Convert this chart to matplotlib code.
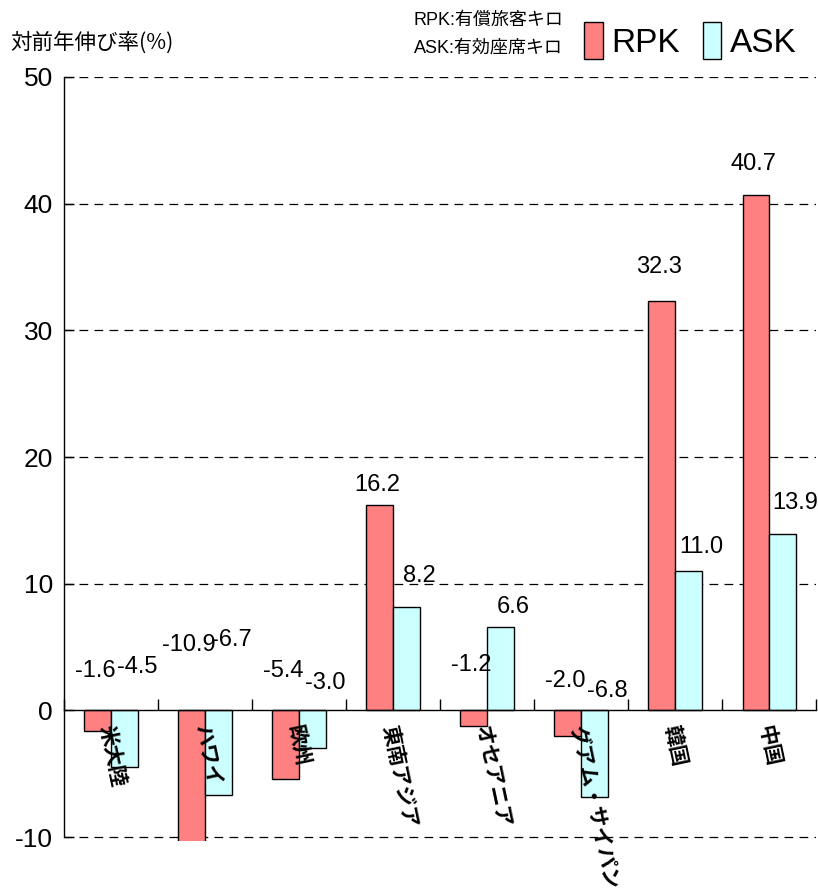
import matplotlib
matplotlib.use("Agg")
import matplotlib.pyplot as plt
from matplotlib import font_manager as fm
import numpy as np

# ---- data ----
categories = ["米大陸", "ハワイ", "欧州", "東南アジア", "オセアニア", "グアム・サイパン", "韓国", "中国"]
rpk = [-1.6, -10.9, -5.4, 16.2, -1.2, -2.0, 32.3, 40.7]
ask = [-4.5, -6.7, -3.0, 8.2, 6.6, -6.8, 11.0, 13.9]
rpk_labels = ["-1.6", "-10.9", "-5.4", "16.2", "-1.2", "-2.0", "32.3", "40.7"]
ask_labels = ["-4.5", "-6.7", "-3.0", "8.2", "6.6", "-6.8", "11.0", "13.9"]
yticks = [-10, 0, 10, 20, 30, 40, 50]

# label placement (y position of value labels, in axis units)
rpk_label_y = [3.1, 5.2, 3.1, 17.8, 3.6, 2.3, 35.0, 43.1]
ask_label_y = [3.4, 5.6, 2.2, 10.6, 8.2, 1.5, 12.9, 16.4]

names = {f.name for f in fm.fontManager.ttflist}
NUM = "Liberation Sans Narrow" if "Liberation Sans Narrow" in names else "Liberation Sans"
JP = "Noto Sans CJK JP"
plt.rcParams["font.family"] = [NUM, JP, "DejaVu Sans"]

RED = "#FF8080"
CYAN = "#CCFFFF"

fig = plt.figure(figsize=(8.18, 8.92), dpi=100)
ax = fig.add_axes([0.0782, 0.0572, 0.9198, 0.9137 - 0.0572])

x = np.arange(len(categories))
w = 0.285
b1 = ax.bar(x - w / 2, rpk, w, color=RED, edgecolor="black", linewidth=1.0, zorder=3, label="RPK")
b2 = ax.bar(x + w / 2, ask, w, color=CYAN, edgecolor="black", linewidth=1.0, zorder=3, label="ASK")

ax.set_xlim(-0.5, len(categories) - 0.5)
ax.set_ylim(-10.3, 50)
ax.set_yticks(yticks)
ax.set_yticklabels([str(v) for v in yticks], fontsize=19, family=[NUM])
ax.tick_params(axis="y", direction="in", length=7, width=1, pad=8)

for v in yticks:
    if v != 0:
        ax.axhline(v, color="black", lw=0.9, ls=(0, (7, 5)), zorder=1)

for s in ["top", "right"]:
    ax.spines[s].set_visible(False)
ax.spines["left"].set_bounds(-10, 50)
ax.spines["left"].set_linewidth(1.0)
ax.spines["bottom"].set_position(("data", 0))
ax.spines["bottom"].set_linewidth(1.0)
ax.spines["bottom"].set_zorder(4)
ax.set_xticks(np.arange(len(categories) + 1) - 0.5)
ax.set_xticklabels([])
ax.tick_params(axis="x", direction="in", length=8, width=1)

# value labels
for i in range(len(categories)):
    ax.text(x[i] - 0.17, rpk_label_y[i], rpk_labels[i], ha="center", va="center",
            fontsize=17, family=[NUM], zorder=5)
    ax.text(x[i] + 0.28, ask_label_y[i], ask_labels[i], ha="center", va="center",
            fontsize=17, family=[NUM], zorder=5)

# category labels
for i, c in enumerate(categories):
    ax.text(x[i] - 0.05, -1.2, c, rotation=-78, rotation_mode="anchor",
            ha="left", va="center", fontsize=15, fontweight="bold",
            family=[JP], zorder=6, clip_on=False)

# y-axis title
fig.text(0.012, 0.952, "対前年伸び率(%)", fontsize=15.5, family=[JP, NUM], ha="left", va="center")

# notes
fig.text(0.506, 0.977, "RPK:有償旅客キロ", fontsize=13, family=[NUM, JP], ha="left", va="center")
fig.text(0.506, 0.946, "ASK:有効座席キロ", fontsize=13, family=[NUM, JP], ha="left", va="center")

leg = fig.legend(handles=[b1, b2], labels=["RPK", "ASK"], loc="upper right",
                 bbox_to_anchor=(1.0, 1.0), ncol=2, frameon=False,
                 prop={"family": [NUM], "size": 24}, handlelength=0.55, handleheight=1.35,
                 handletextpad=0.25, columnspacing=0.7, borderaxespad=0.25)

fig.savefig("out.png", dpi=100)
